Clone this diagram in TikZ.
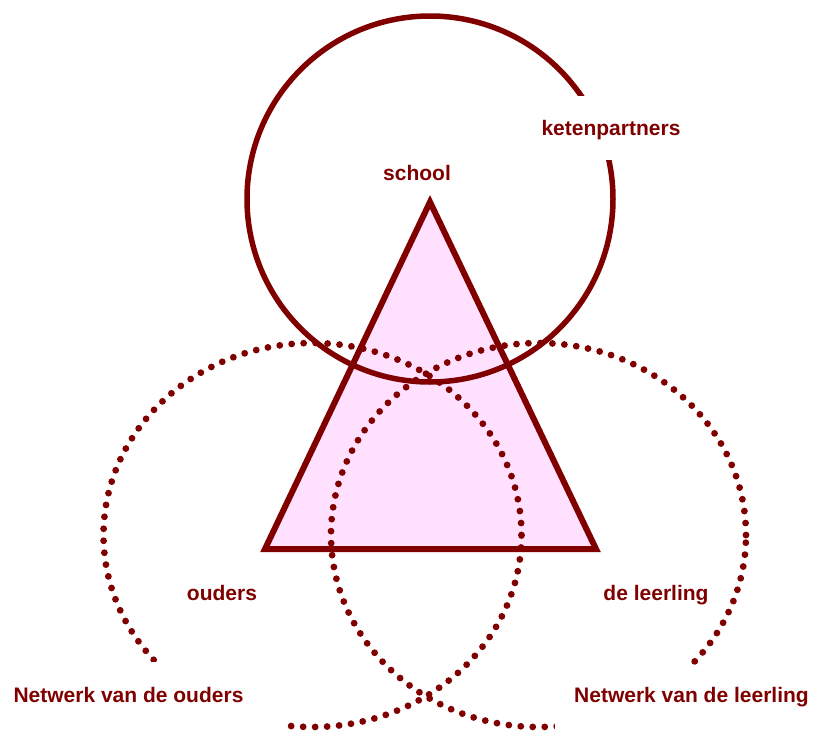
\documentclass[tikz,border=0pt]{standalone}
\usepackage{fontspec}
\setmainfont{Liberation Sans}
\definecolor{dred}{HTML}{800000}
\definecolor{lpink}{HTML}{FFE1FF}
\begin{document}
\begin{tikzpicture}[x=1pt,y=-1pt,
  lbl/.style={text=dred,font=\fontsize{21pt}{25pt}\selectfont\bfseries,anchor=base,inner sep=0pt},
  solidring/.style={draw=dred,line width=5.5pt},
  dotring/.style={draw=dred,line width=6.8pt,line cap=round,dash pattern=on 0pt off 12pt},
  tri/.style={draw=dred,fill=lpink,line width=6pt,line join=miter}]
\clip (0,0) rectangle (820,731);
\fill[white] (0,0) rectangle (820,731);
% triangle
\coordinate (apex) at (430,202);
\coordinate (bl) at (265,549);
\coordinate (br) at (596,549);
\draw[tri] (apex) -- (bl) -- (br) -- cycle;
% school circle
\coordinate (cs) at (430,199);
\draw[solidring] (cs) circle [radius=183pt];
% network ellipses
\coordinate (co) at (312.5,535);
\coordinate (cl) at (538.5,535);
\draw[dotring] (co) ellipse [x radius=209pt, y radius=192pt];
\draw[dotring] (cl) ellipse [x radius=207.5pt, y radius=192pt];
% white text boxes
\fill[white] (528,96) rectangle (695,160);
\fill[white] (0,662) rectangle (285,731);
\fill[white] (555,665) rectangle (820,731);
% labels
\node[lbl] (school) at (417,180) {school};
\node[lbl] (keten) at (611,135) {ketenpartners};
\node[lbl] (ouders) at (222,600) {ouders};
\node[lbl] (leerling) at (656,600) {de leerling};
\node[lbl] (nouders) at (128.5,702) {Netwerk van de ouders};
\node[lbl] (nleerling) at (691.5,702) {Netwerk van de leerling};
\end{tikzpicture}
\end{document}
